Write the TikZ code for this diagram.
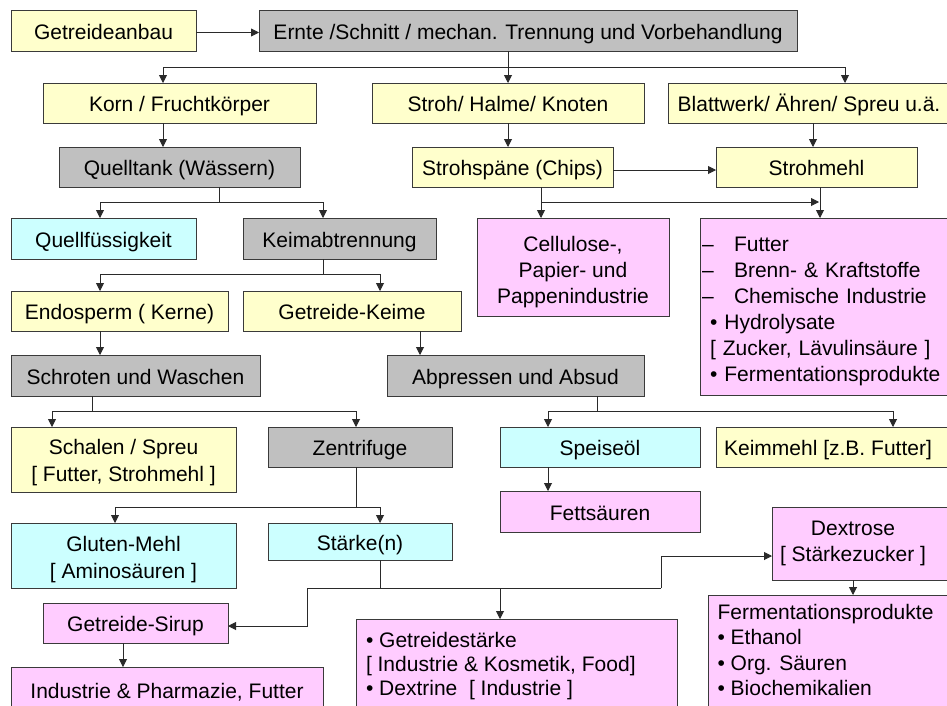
\documentclass[tikz,border=0pt]{standalone}
\usepackage{fontspec}
\setmainfont{Liberation Sans}
\usetikzlibrary{arrows.meta}

\definecolor{cYel}{HTML}{FFFFCC}
\definecolor{cGry}{HTML}{C0C0C0}
\definecolor{cCya}{HTML}{CCFFFF}
\definecolor{cPnk}{HTML}{FFCCFF}
\definecolor{boxline}{HTML}{3A3A3A}
\definecolor{wire}{HTML}{2A2A2A}

\newcommand\fsA{\fontsize{21}{26}\selectfont}
\newcommand\fsB{\fontsize{21}{27}\selectfont}

\begin{document}
\begin{tikzpicture}[x=1pt,y=-1pt,
  base/.style={draw=boxline, line width=1pt, inner sep=0pt, outer sep=0pt, font=\fsA},
  box/.style={base, text height=17.5pt, text depth=0pt},
  yel/.style={fill=cYel},
  gry/.style={fill=cGry},
  cya/.style={fill=cCya},
  pnk/.style={fill=cPnk},
  ln/.style={draw=wire, line width=0.9pt},
  arr/.style={draw=wire, line width=0.9pt, -{Triangle[length=8pt,width=8pt]}}]

\fill[white] (0,0) rectangle (947,705);
\clip (0,0) rectangle (947,705);

% ---- boxes ----
\node[box, yel, minimum width=185, minimum height=41] (anbau) at (103.5,30.5) {Getreideanbau};
\node[box, gry, minimum width=538, minimum height=41] (ernte) at (528,30.5) {Ernte /Schnitt / mechan. Trennung und Vorbehandlung};

\node[box, yel, minimum width=273, minimum height=40] (korn) at (179.5,103) {Korn / Fruchtkörper};
\node[box, yel, minimum width=272, minimum height=40] (stroh) at (508,103) {Stroh/ Halme/ Knoten};
\node[box, yel, minimum width=282, minimum height=40] (blatt) at (809,103) {Blattwerk/ Ähren/ Spreu u.ä.};

\node[box, gry, minimum width=241, minimum height=40] (quell) at (179.5,167) {Quelltank (Wässern)};
\node[box, yel, minimum width=201, minimum height=40] (chips) at (512.5,167) {Strohspäne (Chips)};
\node[box, yel, minimum width=201, minimum height=40] (smehl) at (816.5,167) {Strohmehl};

\node[box, cya, minimum width=185, minimum height=41] (qfl) at (103.5,238.5) {Quellfüssigkeit};
\node[box, gry, minimum width=193, minimum height=41] (keimab) at (339.5,238.5) {Keimabtrennung};
\node[base, pnk, align=center, text height=72pt, text depth=0pt, minimum width=192, minimum height=98] (cell) at (573,267)
  {Cellulose-,\\ Papier- und\\ Pappenindustrie};
\node[base, pnk, align=left, inner xsep=2pt, text width=256pt, text height=19pt, text depth=130pt, minimum height=177] (futter) at (830,306.5)
  {–\hspace{0.97em}Futter\\
   –\hspace{0.97em}Brenn- \& Kraftstoffe\\
   –\hspace{0.97em}Chemische Industrie\\
   \hspace*{8pt}• Hydrolysate\\
   \hspace*{8pt}{[} Zucker, Lävulinsäure ]\\
   \hspace*{8pt}• Fermentationsprodukte};

\node[box, yel, minimum width=217, minimum height=40] (endo) at (119.5,311) {Endosperm ( Kerne)};
\node[box, yel, minimum width=218, minimum height=40] (gkeime) at (352,311) {Getreide-Keime};

\node[box, gry, minimum width=249, minimum height=41] (schrot) at (135.5,375.5) {Schroten und Waschen};
\node[box, gry, minimum width=257, minimum height=41] (abpress) at (515.5,375.5) {Abpressen und Absud};

\node[base, yel, font=\fsB, align=center, text height=43pt, text depth=0pt, minimum width=225, minimum height=65] (schalen) at (123.5,459.5)
  {Schalen / Spreu\\ {[} Futter, Strohmehl ]};
\node[box, gry, minimum width=184, minimum height=40] (zentr) at (360,447) {Zentrifuge};
\node[box, cya, minimum width=200, minimum height=40] (speise) at (600,447) {Speiseöl};
\node[box, yel, minimum width=234, minimum height=40] (keimmehl) at (833,447) {\makebox[224pt]{Keimmehl [z.B. Futter]}\hspace*{10pt}};

\node[box, pnk, minimum width=200, minimum height=41] (fett) at (600,511.5) {Fettsäuren};

\node[base, cya, font=\fsB, align=center, text height=45pt, text depth=0pt, minimum width=225, minimum height=65] (gluten) at (123.5,555.5)
  {Gluten-Mehl\\ {[} Aminosäuren ]};
\node[box, cya, minimum width=184, minimum height=37] (staerke) at (360,541.5) {Stärke(n)};
\node[base, pnk, minimum width=178, minimum height=73] (dextr) at (861,543.5)
  {\parbox{162pt}{\centering Dextrose\\ {[} Stärkezucker ]}\hspace*{16pt}};

\node[box, pnk, minimum width=185, minimum height=40] (sirup) at (135.5,623) {Getreide-Sirup};
\node[box, pnk, minimum width=312, minimum height=46] (indph) at (167,690) {Industrie \& Pharmazie, Futter};

\node[base, pnk, anchor=north west, inner xsep=10pt, inner ysep=0pt] (gstaerke) at (356,619)
  {\parbox[c][120pt][t]{301pt}{\raggedright\fontsize{21}{24}\selectfont
   \rule{0pt}{28pt}• Getreidestärke\\
   {[} Industrie \& Kosmetik, Food]\\
   • Dextrine\ \ {[} Industrie ]}};
\node[base, pnk, anchor=north west, inner xsep=9.5pt, inner ysep=0pt] (ferm) at (708,595)
  {\parbox[c][120pt][t]{241pt}{\raggedright\fontsize{21}{25.5}\selectfont
   \rule{0pt}{24pt}Fermentationsprodukte\\
   • Ethanol\\
   • Org. Säuren\\
   • Biochemikalien}};

% ---- junction points of the connector buses ----
\coordinate (eL) at (163,67);
\coordinate (eR) at (845,67);
\coordinate (qM) at (219,202);
\coordinate (qL) at (100,202);
\coordinate (qR) at (323,202);
\coordinate (cM) at (541,202);
\coordinate (cR) at (820,202);
\coordinate (bX) at (813,135);
\coordinate (kL) at (100,274);
\coordinate (kR) at (380,274);
\coordinate (gX) at (420,343);
\coordinate (mM) at (92,411);
\coordinate (mL) at (52,411);
\coordinate (mR) at (356,411);
\coordinate (nM) at (597,411);
\coordinate (nL) at (548,411);
\coordinate (nR) at (893,411);
\coordinate (pL) at (115,507);
\coordinate (pR) at (380,507);
\coordinate (sL) at (307,588);
\coordinate (sR) at (661,588);
\coordinate (sD) at (500,588);
\coordinate (rX) at (123,655);
\coordinate (tX) at (853,588);

% ---- connectors ----
\draw[arr] ([yshift=-2pt]anbau.east) -- ([yshift=-2pt]ernte.west);

\draw[ln] (ernte.south -| stroh.north) -- (stroh.north |- eL);
\draw[ln] (eL) -- (eR);
\draw[arr] (eL) -- (eL |- korn.north);
\draw[arr] (stroh.north |- eL) -- (stroh.north);
\draw[arr] (eR) -- (eR |- blatt.north);

\draw[arr] (korn.south -| eL) -- (quell.north -| eL);
\draw[ln] (quell.south -| qM) -- (qM);
\draw[ln] (qL) -- (qR);
\draw[arr] (qL) -- (qL |- qfl.north);
\draw[arr] (qR) -- (qR |- keimab.north);

\draw[arr] (stroh.south) -- (stroh.south |- chips.north);
\draw[arr] ([yshift=-3pt]chips.east) -- ([yshift=-3pt]chips.east -| smehl.west);
\draw[arr] (blatt.south -| bX) -- (smehl.north -| bX);

\draw[ln] (chips.south -| cM) -- (cM);
\draw[arr, shorten >=1pt] (cM) -- (cR);
\draw[arr] (cM) -- (cM |- cell.north);
\draw[arr] (smehl.south -| cR) -- (futter.north -| cR);

\draw[ln] (keimab.south -| qR) -- (qR |- kL);
\draw[ln] (kL) -- (kR);
\draw[arr] (kL) -- (kL |- endo.north);
\draw[arr] (kR) -- (kR |- gkeime.north);

\draw[arr] (endo.south -| kL) -- (schrot.north -| kL);
\draw[arr] (gkeime.south -| gX) -- (abpress.north -| gX);

\draw[ln] (schrot.south -| mM) -- (mM);
\draw[ln] (mL) -- (mR);
\draw[arr] (mL) -- (mL |- schalen.north);
\draw[arr] (mR) -- (mR |- zentr.north);

\draw[ln] (abpress.south -| nM) -- (nM);
\draw[ln] (nL) -- (nR);
\draw[arr] (nL) -- (nL |- speise.north);
\draw[arr] (nR) -- (nR |- keimmehl.north);

\draw[arr] (speise.south -| nL) -- (fett.north -| nL);

\draw[ln] (zentr.south -| mR) -- (mR |- pL);
\draw[ln] (pL) -- (pR);
\draw[arr] (pL) -- (pL |- gluten.north);
\draw[arr] (pR) -- (pR |- staerke.north);

\draw[ln] (staerke.south -| pR) -- (pR |- sL);
\draw[ln] (sL) -- (sR);
\draw[arr] (sL) |- ([yshift=-3pt]sirup.east);
\draw[arr] (sR) |- ([yshift=-12.5pt]dextr.west);
\draw[arr] (sD) -- (sD |- gstaerke.north);

\draw[arr] (sirup.south -| rX) -- (indph.north -| rX);
\draw[arr] (dextr.south -| tX) -- (ferm.north -| tX);

\end{tikzpicture}
\end{document}
